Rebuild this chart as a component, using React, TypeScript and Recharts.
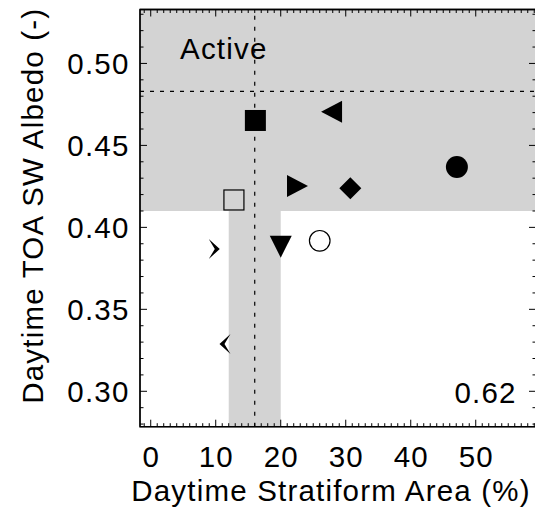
import { ScatterChart, Scatter, XAxis, YAxis, ReferenceArea, ReferenceLine } from "recharts";

// points: stratiform area (%) vs TOA albedo
const stratArea = [16.1, 27.9, 22.5, 30.7, 12.8, 47.1, 26.0, 20.0, 9.7, 11.5];
const albedo = [0.4652, 0.4705, 0.4252, 0.4238, 0.4167, 0.4368, 0.3918, 0.3882, 0.3868, 0.3288];
const markers = [
  "squareFilled",
  "triLeft",
  "triRight",
  "diamond",
  "squareOpen",
  "circleFilled",
  "circleOpen",
  "triDown",
  "chevronRight",
  "chevronLeft",
];

const xTickLabels = [0, 10, 20, 30, 40, 50];
const yTickLabels = [0.3, 0.35, 0.4, 0.45, 0.5];
const activeAlbedo = 0.41;
const areaBand = [12, 20];
const meanArea = 16;
const meanAlbedo = 0.483;
const corrText = "0.62";

const xDomain: [number, number] = [-1.65, 59.27];
const yDomain: [number, number] = [0.2784, 0.5329];

const xMinor = Array.from({ length: 61 }, (_, i) => i - 1);
const yMinor = Array.from({ length: 26 }, (_, i) => Math.round((0.28 + i * 0.01) * 100) / 100);

const data = stratArea.map((x, i) => ({ x, y: albedo[i], marker: markers[i] }));

const W = 535;
const H = 500;
const M = { top: 1.5, right: 7, bottom: 0, left: 0 };
const PLOT_TOP = M.top;
const PLOT_RIGHT = W - M.right;

const FONT = "'Liberation Sans', Arial, Helvetica, sans-serif";
const FS = 29.5;
const LS = 1.2;
const MAJOR = 7;
const MINOR = 3.5;

const isMajorX = (v: number) => v % 10 === 0;
const isMajorY = (v: number) => Math.abs(v * 20 - Math.round(v * 20)) < 1e-6;

// bottom axis tick: inward tick, mirrored tick on the top frame, label below
function BottomTick(props: any) {
  const { x, y, payload } = props;
  const v = payload.value;
  const len = isMajorX(v) ? MAJOR : MINOR;
  return (
    <g>
      <line x1={x} x2={x} y1={y} y2={y - len} stroke="#000" />
      <line x1={x} x2={x} y1={PLOT_TOP} y2={PLOT_TOP + len} stroke="#000" />
      {xTickLabels.includes(v) && (
        <text x={x + LS / 2} y={y + 40.6} textAnchor="middle" fontSize={FS} letterSpacing={LS} fontFamily={FONT} fill="#000">
          {v}
        </text>
      )}
    </g>
  );
}

function LeftTick(props: any) {
  const { x, y, payload } = props;
  const v = payload.value;
  const len = isMajorY(v) ? MAJOR : MINOR;
  return (
    <g>
      <line x1={x} x2={x + len} y1={y} y2={y} stroke="#000" />
      <line x1={PLOT_RIGHT} x2={PLOT_RIGHT - len} y1={y} y2={y} stroke="#000" />
      {yTickLabels.some((t) => Math.abs(t - v) < 1e-6) && (
        <text x={x - 10.5} y={y + 10.5} textAnchor="end" fontSize={FS} letterSpacing={LS} fontFamily={FONT} fill="#000">
          {v.toFixed(2)}
        </text>
      )}
    </g>
  );
}

function Marker(props: any) {
  const { cx, cy, payload } = props;
  switch (payload.marker) {
    case "squareFilled":
      return <rect x={cx - 10.5} y={cy - 10.5} width={21} height={21} fill="#000" />;
    case "squareOpen":
      return <rect x={cx - 10} y={cy - 10} width={20} height={20} fill="none" stroke="#000" strokeWidth={1.2} />;
    case "triLeft":
      return <polygon points={`${cx - 11},${cy} ${cx + 10},${cy - 11} ${cx + 10},${cy + 11}`} fill="#000" />;
    case "triRight":
      return <polygon points={`${cx + 11},${cy} ${cx - 10},${cy - 11} ${cx - 10},${cy + 11}`} fill="#000" />;
    case "triDown":
      return <polygon points={`${cx},${cy + 11} ${cx - 11},${cy - 11} ${cx + 11},${cy - 11}`} fill="#000" />;
    case "diamond":
      return <polygon points={`${cx},${cy - 11} ${cx + 11},${cy} ${cx},${cy + 11} ${cx - 11},${cy}`} fill="#000" />;
    case "circleFilled":
      return <circle cx={cx} cy={cy} r={11} fill="#000" />;
    case "circleOpen":
      return <circle cx={cx} cy={cy} r={10.3} fill="none" stroke="#000" strokeWidth={1.2} />;
    case "chevronRight":
      return <polygon points={`${cx - 5},${cy - 10} ${cx + 6},${cy} ${cx - 5},${cy + 10} ${cx + 1},${cy}`} fill="#000" />;
    case "chevronLeft":
      return <polygon points={`${cx + 5},${cy - 10} ${cx - 6},${cy} ${cx + 5},${cy + 10} ${cx - 1},${cy}`} fill="#000" />;
    default:
      return <circle cx={cx} cy={cy} r={4} fill="#000" />;
  }
}

const ActiveLabel = () => (
  <text x={172} y={51.3} fontSize={FS} letterSpacing={LS} fontFamily={FONT} fill="#000">
    Active
  </text>
);

export default function App() {
  return (
    <ScatterChart width={W} height={H} margin={M}>
      <XAxis
        xAxisId="b"
        type="number"
        dataKey="x"
        orientation="bottom"
        domain={xDomain}
        allowDataOverflow
        ticks={xMinor}
        interval={0}
        height={81.3}
        tickSize={0}
        tickMargin={0}
        tickLine={false}
        axisLine={{ stroke: "#000" }}
        tick={<BottomTick />}
      />
      <YAxis
        yAxisId="l"
        type="number"
        dataKey="y"
        orientation="left"
        domain={yDomain}
        allowDataOverflow
        ticks={yMinor}
        interval={0}
        width={132}
        tickSize={0}
        tickMargin={0}
        tickLine={false}
        axisLine={{ stroke: "#000" }}
        tick={<LeftTick />}
      />
      <ReferenceArea
        xAxisId="b"
        yAxisId="l"
        y1={activeAlbedo}
        y2={yDomain[1]}
        fill="#d3d3d3"
        fillOpacity={1}
        stroke="none"
        label={{ content: ActiveLabel }}
      />
      <ReferenceArea
        xAxisId="b"
        yAxisId="l"
        x1={areaBand[0]}
        x2={areaBand[1]}
        y1={yDomain[0]}
        y2={activeAlbedo}
        fill="#d3d3d3"
        fillOpacity={1}
        stroke="none"
      />
      {/* plot frame */}
      <ReferenceArea
        xAxisId="b"
        yAxisId="l"
        x1={xDomain[0]}
        x2={xDomain[1]}
        y1={yDomain[0]}
        y2={yDomain[1]}
        fill="none"
        stroke="#000"
        strokeWidth={1.5}
      />
      <ReferenceLine xAxisId="b" yAxisId="l" x={xDomain[1]} stroke="#000" strokeWidth={1.5} />
      <ReferenceLine xAxisId="b" yAxisId="l" y={yDomain[1]} stroke="#000" strokeWidth={1.5} />
      <ReferenceLine xAxisId="b" yAxisId="l" x={meanArea} stroke="#000" strokeWidth={1.2} strokeDasharray="4 7" />
      <ReferenceLine xAxisId="b" yAxisId="l" y={meanAlbedo} stroke="#000" strokeWidth={1.2} strokeDasharray="4 6" />
      <Scatter xAxisId="b" yAxisId="l" data={data} shape={<Marker />} isAnimationActive={false} />
      <text x={508.7} y={394.7} textAnchor="end" fontSize={FS} letterSpacing={LS} fontFamily={FONT} fill="#000">
        {corrText}
      </text>
      <text x={323} y={492.7} textAnchor="middle" fontSize={FS} letterSpacing={LS} fontFamily={FONT} fill="#000">
        Daytime Stratiform Area (%)
      </text>
      <text
        x={35}
        y={197.7}
        textAnchor="middle"
        fontSize={FS}
        letterSpacing={LS}
        fontFamily={FONT}
        fill="#000"
        transform="rotate(-90, 35, 197.7)"
      >
        Daytime TOA SW Albedo (-)
      </text>
    </ScatterChart>
  );
}
